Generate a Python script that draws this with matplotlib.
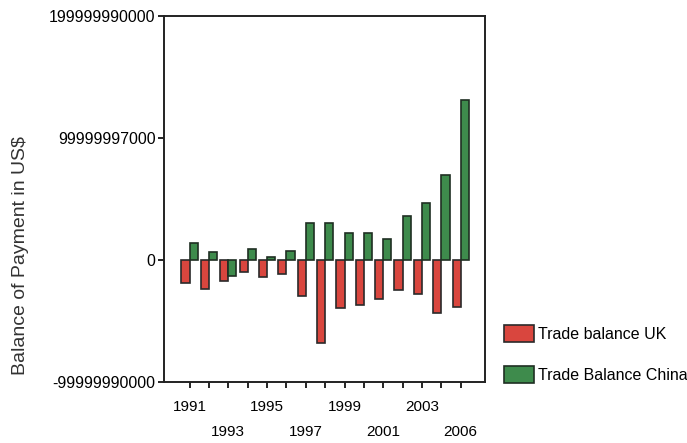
import numpy as np
from matplotlib import pyplot as plt

plt.rcParams['font.family'] = ['Liberation Sans', 'DejaVu Sans']

# one group per year, 15 groups (last label reads 2006 in the original)
years = list(range(1991, 2006))
uk = [-1.9e10, -2.36e10, -1.73e10, -1.0e10, -1.4e10, -1.14e10, -2.98e10, -6.83e10,
      -3.93e10, -3.71e10, -3.23e10, -2.5e10, -2.76e10, -4.34e10, -3.85e10]
china = [1.38e10, 0.62e10, -1.3e10, 0.9e10, 0.27e10, 0.76e10, 3.06e10, 3.0e10,
         2.22e10, 2.22e10, 1.7e10, 3.6e10, 4.66e10, 6.94e10, 1.31e11]

top_labels = ['1991', '1995', '1999', '2003']
low_labels = ['1993', '1997', '2001', '2006']
y_ticks = [-1e11, 0, 1e11, 2e11]
y_labels = ['-99999990000', '0', '99999997000', '199999990000']

fig = plt.figure(figsize=(6.87, 4.43), dpi=100)
ax = fig.add_axes([0.2387, 0.1377, 0.4672, 0.8262])

x = np.arange(len(years))
w = 0.42
ax.bar(x - w / 2, uk, w, color='#d9463e', edgecolor='#2a2a2a', linewidth=1.2,
       label='Trade balance UK')
ax.bar(x + w / 2, china, w, color='#3e8b4c', edgecolor='#1f2f22', linewidth=1.2,
       label='Trade Balance China')

ax.set_xlim(-1.32, 15.25)
ax.set_ylim(-1e11, 2e11)

ax.set_yticks(y_ticks)
ax.set_yticklabels(y_labels, fontsize=11.5)

# ticks at every group, labels alternating on two rows
ax.xaxis.remove_overlapping_locs = False
ax.set_xticks(x)
ax.set_xticklabels(['' if i % 4 else top_labels[i // 4] for i in x], fontsize=11)
ax.set_xticks(x[2::4], minor=True)
ax.set_xticklabels(low_labels, minor=True, fontsize=11)
ax.tick_params(axis='x', which='minor', length=0, pad=31)
ax.tick_params(axis='x', which='major', length=4, width=1.2, pad=9)
ax.tick_params(axis='y', length=4, width=1.2, pad=2)

for s in ax.spines.values():
    s.set_linewidth(1.4)
    s.set_color('#222222')

fig.text(0.03, 0.424, 'Balance of Payment in US$', rotation=90,
         ha='center', va='center', fontsize=14, color='#333333')

fig.legend(loc='upper left', bbox_to_anchor=(0.722, 0.284), frameon=False,
           fontsize=11.5, borderpad=0, handlelength=1.9, handleheight=1.25,
           handletextpad=0.2, labelspacing=1.5)

fig.savefig('out.png', dpi=100)
